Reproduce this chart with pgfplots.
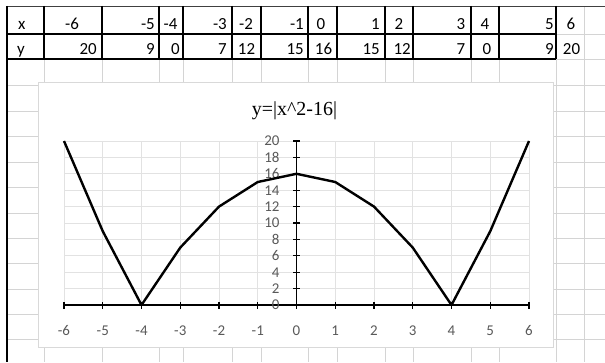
\documentclass[border=0pt]{standalone}
\usepackage{fontspec}
\setmainfont{Carlito}
\newfontfamily\titlefont{Liberation Serif}
\usepackage{pgfplots}
\pgfplotsset{compat=1.18}
\definecolor{cellgrid}{HTML}{D4D4D4}
\definecolor{chartborder}{HTML}{D9D9D9}
\definecolor{plotgrid}{HTML}{E2E2E2}
\definecolor{ticktext}{HTML}{595959}

\begin{document}
\begin{tikzpicture}[x=1bp,y=1bp]
\path[use as bounding box] (0,0) rectangle (605,362);
\begin{scope}[shift={(0,362)}, yscale=-1]
  % worksheet cell grid
  \foreach \c in {44,102,159,183,232,261,308,337,385,413,471,499,556,584}
    \draw[cellgrid, line width=0.9] (\c,59) -- (\c,362);
  \draw[cellgrid, line width=0.9] (584,6) -- (584,59);
  \foreach \r in {85,111,136,162,187,213,238,263,289,314,339.5}
    \draw[cellgrid, line width=0.9] (7,\r) -- (605,\r);
  \draw[cellgrid, line width=0.9] (556,34) -- (605,34);
  \draw[cellgrid, line width=0.9] (556,59) -- (605,59);
  \draw[black!75, line width=1] (7,6) -- (605,6);
  % value table borders
  \foreach \c in {44,102,159,183,232,261,308,337,385,413,471,499,556}
    \draw[black, line width=1.1] (\c,6) -- (\c,59);
  \draw[black, line width=1.1] (7,34) -- (556,34);
  \draw[black, line width=1.1] (7,59) -- (556,59);
  \draw[black, line width=1.6] (7,6) -- (7,362);
  % table entries
  \begin{scope}[every node/.style={inner sep=0pt, font=\fontsize{17}{17}\selectfont}]
    \node[anchor=base west] at (18,29) {x};
    \node[anchor=base] at (72,29) {-6};
    \node[anchor=base east] at (155,29) {-5};
    \node[anchor=base] at (170.5,29) {-4};
    \node[anchor=base east] at (227,29) {-3};
    \node[anchor=base] at (246,29) {-2};
    \node[anchor=base east] at (304,29) {-1};
    \node[anchor=base] at (321,29) {0};
    \node[anchor=base east] at (380,29) {1};
    \node[anchor=base] at (399,29) {2};
    \node[anchor=base east] at (465.5,29) {3};
    \node[anchor=base] at (485,29) {4};
    \node[anchor=base east] at (554,29) {5};
    \node[anchor=base] at (571,29) {6};
    \node[anchor=base west] at (17,54) {y};
    \node[anchor=base east] at (97,54) {20};
    \node[anchor=base east] at (155,54) {9};
    \node[anchor=base east] at (180,54) {0};
    \node[anchor=base east] at (227,54) {7};
    \node[anchor=base] at (246.5,54) {12};
    \node[anchor=base east] at (304,54) {15};
    \node[anchor=base] at (323.5,54) {16};
    \node[anchor=base east] at (380,54) {15};
    \node[anchor=base east] at (411,54) {12};
    \node[anchor=base east] at (465.5,54) {7};
    \node[anchor=base] at (487,54) {0};
    \node[anchor=base east] at (554,54) {9};
    \node[anchor=base] at (571.5,54) {20};
  \end{scope}
  % chart area
  \filldraw[fill=white, draw=chartborder, line width=1] (38,82) rectangle (553,347);
  \node[anchor=base, inner sep=0pt, font=\titlefont\fontsize{20}{20}\selectfont]
    at (294.5,115) {y=|x\textasciicircum 2-16|};
\end{scope}

\begin{axis}[
  at={(64bp,57bp)}, anchor=south west,
  scale only axis, width=465bp, height=164bp,
  xmin=-6, xmax=6, ymin=0, ymax=20,
  enlargelimits=false, clip=false,
  axis lines=middle,
  axis line style={-, line width=1.8bp, black},
  hide obscured x ticks=false, hide obscured y ticks=false,
  xtick={-6,-5,-4,-3,-2,-1,0,1,2,3,4,5,6},
  xticklabels={-6,-5,-4,-3,-2,-1,0,1,2,3,4,5,6},
  ytick={0,2,4,6,8,10,12,14,16,18,20},
  yticklabels={0,2,4,6,8,10,12,14,16,18,20},
  tick align=center, major tick length=7bp,
  tick style={line width=1.3bp, black},
  grid=major, grid style={draw=plotgrid, line width=0.9bp},
  ticklabel style={font=\fontsize{15}{15}\selectfont, text=ticktext},
  xticklabel style={anchor=base, yshift=-27bp},
  yticklabel style={anchor=east, xshift=-10bp},
]
\addplot[black, line width=2.4bp, line join=round, mark=none] coordinates {
  (-6,20) (-5,9) (-4,0) (-3,7) (-2,12) (-1,15) (0,16)
  (1,15) (2,12) (3,7) (4,0) (5,9) (6,20)
};
\end{axis}
\end{tikzpicture}
\end{document}
